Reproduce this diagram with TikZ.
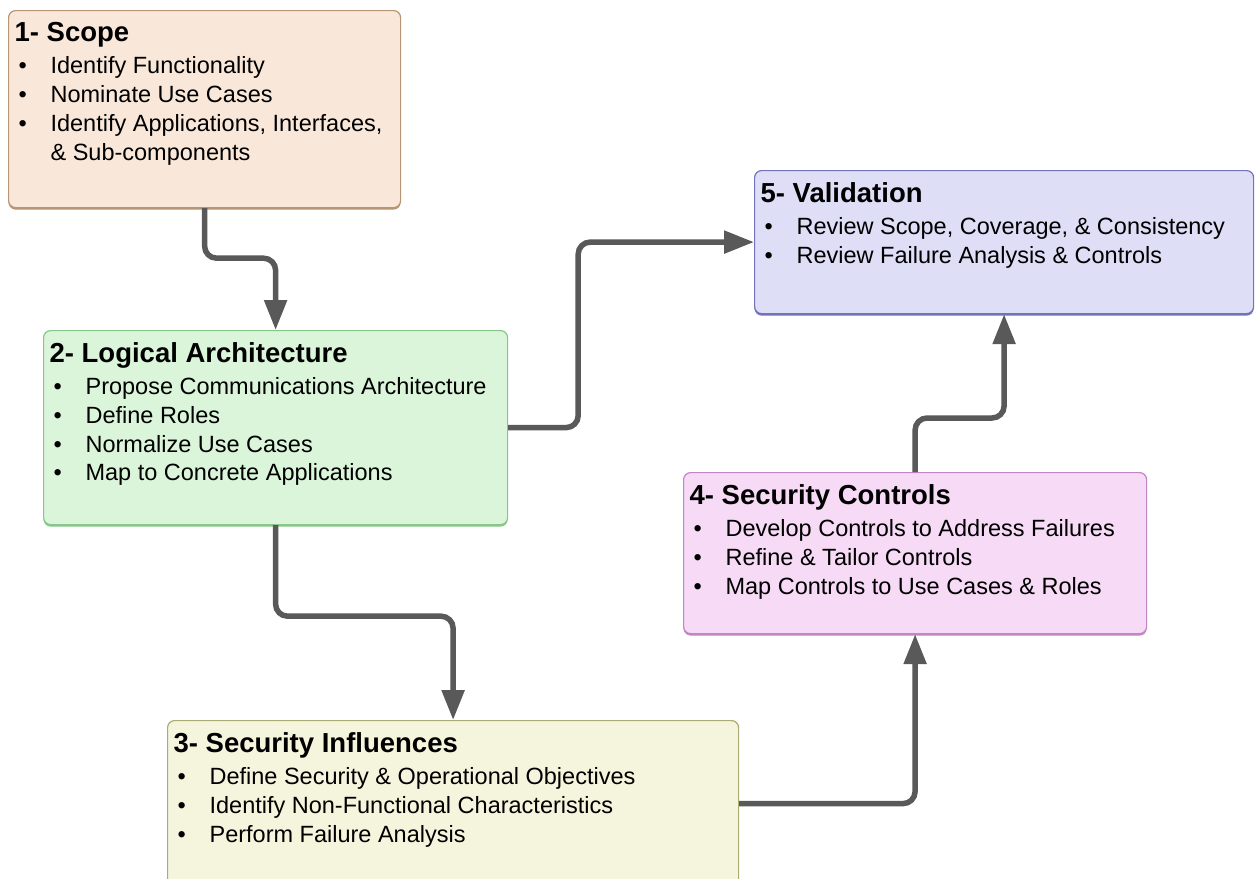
\documentclass[tikz,border=0pt]{standalone}
\usepackage{fontspec}
\setmainfont{Liberation Sans}
\usetikzlibrary{arrows.meta,shadows}

\definecolor{scopefill}{HTML}{F9E8DA}
\definecolor{scopeline}{HTML}{B89574}
\definecolor{logicfill}{HTML}{DBF5DB}
\definecolor{logicline}{HTML}{88C78A}
\definecolor{inflfill}{HTML}{F5F5DD}
\definecolor{inflline}{HTML}{ABAB72}
\definecolor{ctrlfill}{HTML}{F6DAF6}
\definecolor{ctrlline}{HTML}{C286C2}
\definecolor{validfill}{HTML}{DEDEF7}
\definecolor{validline}{HTML}{7373BC}
\definecolor{arrowgray}{HTML}{595959}

\newcommand{\boxtitle}[1]{{\fontsize{27.5}{32}\selectfont\bfseries #1\par}\vspace{3.2pt}}
\newcommand{\itm}[1]{\hspace*{4pt}\makebox[32pt][l]{\textbullet}#1\par}
\newcommand{\itmcont}[1]{\hspace*{36pt}#1\par}
\newcommand{\boxbody}[3]{\parbox[t][#2][t]{#1}{\raggedright #3}}

\begin{document}
\begin{tikzpicture}[x=1pt,y=-1pt,
    box/.style={draw, line width=1.2pt, rounded corners=7pt, anchor=north west,
                inner xsep=6pt, inner ysep=12pt, font=\fontsize{23.5}{28.8}\selectfont},
    tint/.style 2 args={fill=#1, draw=#2,
                drop shadow={shadow xshift=0pt, shadow yshift=-2pt, fill=#2, opacity=1}},
    conn/.style={draw=arrowgray, line width=5.5pt, rounded corners=12pt,
                -{Triangle[length=30pt,width=22pt]}}]
\useasboundingbox[fill=white] (0,0) rectangle (1255,878);

% the five steps
\node[box, tint={scopefill}{scopeline}] (scope) at (8,10) {\boxbody{380pt}{173pt}{%
    \boxtitle{1- Scope}
    \itm{Identify Functionality}
    \itm{Nominate Use Cases}
    \itm{Identify Applications, Interfaces,}
    \itmcont{\& Sub-components}}};
\node[box, tint={logicfill}{logicline}] (logic) at (43,330) {\boxbody{452pt}{170pt}{%
    \boxtitle{2- Logical Architecture}
    \itm{Propose Communications Architecture}
    \itm{Define Roles}
    \itm{Normalize Use Cases}
    \itm{Map to Concrete Applications}}};
\node[box, tint={inflfill}{inflline}] (infl) at (167,720) {\boxbody{559pt}{142pt}{%
    \boxtitle{3- Security Influences}
    \itm{Define Security \& Operational Objectives}
    \itm{Identify Non-Functional Characteristics}
    \itm{Perform Failure Analysis}}};
\node[box, tint={ctrlfill}{ctrlline}] (ctrl) at (683,472) {\boxbody{451pt}{137pt}{%
    \boxtitle{4- Security Controls}
    \itm{Develop Controls to Address Failures}
    \itm{Refine \& Tailor Controls}
    \itm{Map Controls to Use Cases \& Roles}}};
\node[box, tint={validfill}{validline}] (valid) at (754,170) {\boxbody{487pt}{119pt}{%
    \boxtitle{5- Validation}
    \itm{Review Scope, Coverage, \& Consistency}
    \itm{Review Failure Analysis \& Controls}}};

% flow
\draw[conn] (scope.south) -- ++(0,50) -| (logic.north);
\draw[conn] (logic.east) -- ++(70,0) |- (valid.west);
\draw[conn] (logic.south) -- ++(0,91) -| (infl.north);
\draw[conn] (infl.east) -| (ctrl.south);
\draw[conn] (ctrl.north) -- ++(0,-54) -| (valid.south);
\end{tikzpicture}
\end{document}
